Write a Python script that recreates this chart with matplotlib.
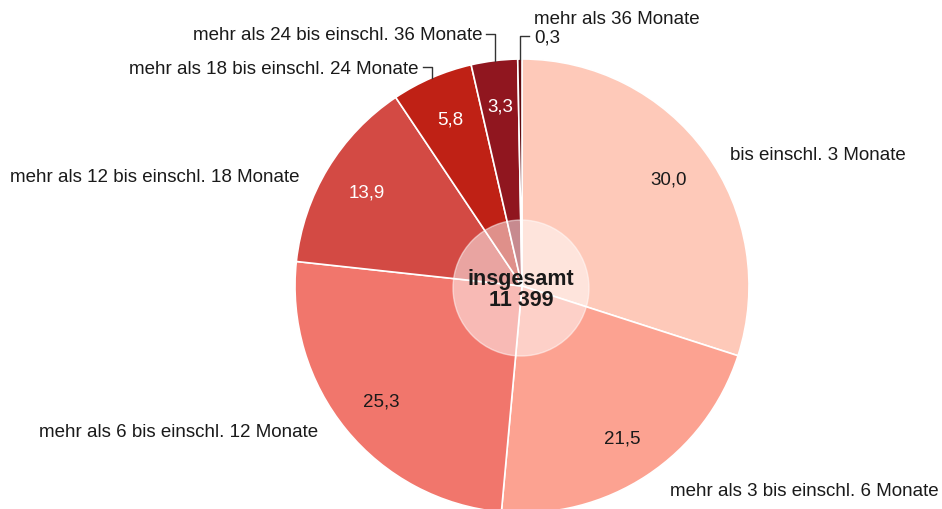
import numpy as np
import matplotlib.pyplot as plt
from matplotlib.patches import Circle

plt.rcParams['font.family'] = ['Liberation Sans', 'DejaVu Sans']

# data
categories = ['bis einschl. 3 Monate',
              'mehr als 3 bis einschl. 6 Monate',
              'mehr als 6 bis einschl. 12 Monate',
              'mehr als 12 bis einschl. 18 Monate',
              'mehr als 18 bis einschl. 24 Monate',
              'mehr als 24 bis einschl. 36 Monate',
              'mehr als 36 Monate']
shares = [30.0, 21.5, 25.3, 13.9, 5.8, 3.3, 0.3]
total = 11399
total_label = 'insgesamt'

colors = ['#fec9b9', '#fca291', '#f1766c', '#d34a44', '#bf2115', '#90161f', '#5e0a0e']
value_colors = ['#1a1a1a', '#1a1a1a', '#1a1a1a', 'white', 'white', 'white', None]


def fmt(v):
    return f'{v:.1f}'.replace('.', ',')


H = 510
fig = plt.figure(figsize=(9.42, 5.10), dpi=100)
ax = fig.add_axes([0, 0, 1, 1])

cx, cy, R = 522, H - 287, 227
wedges, _ = ax.pie(shares, colors=colors, startangle=90, counterclock=False,
                   center=(cx, cy), radius=R,
                   wedgeprops=dict(edgecolor='white', linewidth=1.2))
ax.set_xlim(0, 942)
ax.set_ylim(0, H)
ax.set_aspect('equal')
ax.axis('off')

# values inside the slices
for w, v, c in zip(wedges, shares, value_colors):
    if c is None:
        continue
    mid = np.deg2rad((w.theta1 + w.theta2) / 2)
    ax.text(cx + 0.8 * R * np.cos(mid), cy + 0.8 * R * np.sin(mid), fmt(v),
            ha='center', va='center', fontsize=13.5, color=c)

txt = dict(fontsize=13.5, color='#1a1a1a', va='center')

# labels placed beside the pie
ax.text(730, H - 155, categories[0], ha='left', **txt)
ax.text(670, H - 492, categories[1], ha='left', **txt)
ax.text(318, H - 433, categories[2], ha='right', **txt)
ax.text(300, H - 177, categories[3], ha='right', **txt)

# small slices with leader lines
def rim(i):
    w = wedges[i]
    mid = np.deg2rad((w.theta1 + w.theta2) / 2)
    return cx + R * np.cos(mid), cy + R * np.sin(mid)

line = dict(color='#333333', lw=1)

x, y = rim(4)
ax.plot([x, x, x - 9], [y, H - 68, H - 68], **line)
ax.text(x - 13, H - 69, categories[4], ha='right', **txt)

x, y = rim(5)
ax.plot([x + 1, x + 1, x - 8], [y, H - 35, H - 35], **line)
ax.text(x - 12, H - 36, categories[5], ha='right', **txt)

x, y = rim(6)
ax.plot([x, x, x + 9], [y, H - 37, H - 37], **line)
ax.text(x + 14, H - 19, categories[6], ha='left', **txt)
ax.text(x + 14, H - 38, fmt(shares[6]), ha='left', **txt)

# translucent centre circle with the total
ax.add_patch(Circle((521, H - 289), 68, facecolor='white', alpha=0.5,
                    edgecolor='white', linewidth=1.0, zorder=5))
ax.text(521, H - 280, total_label, ha='center', va='center', fontsize=15.5,
        fontweight='bold', color='#1a1a1a', zorder=6)
ax.text(521, H - 301, f'{total:,}'.replace(',', ' '), ha='center', va='center',
        fontsize=15.5, fontweight='bold', color='#1a1a1a', zorder=6)

fig.savefig('out.png', dpi=100)
